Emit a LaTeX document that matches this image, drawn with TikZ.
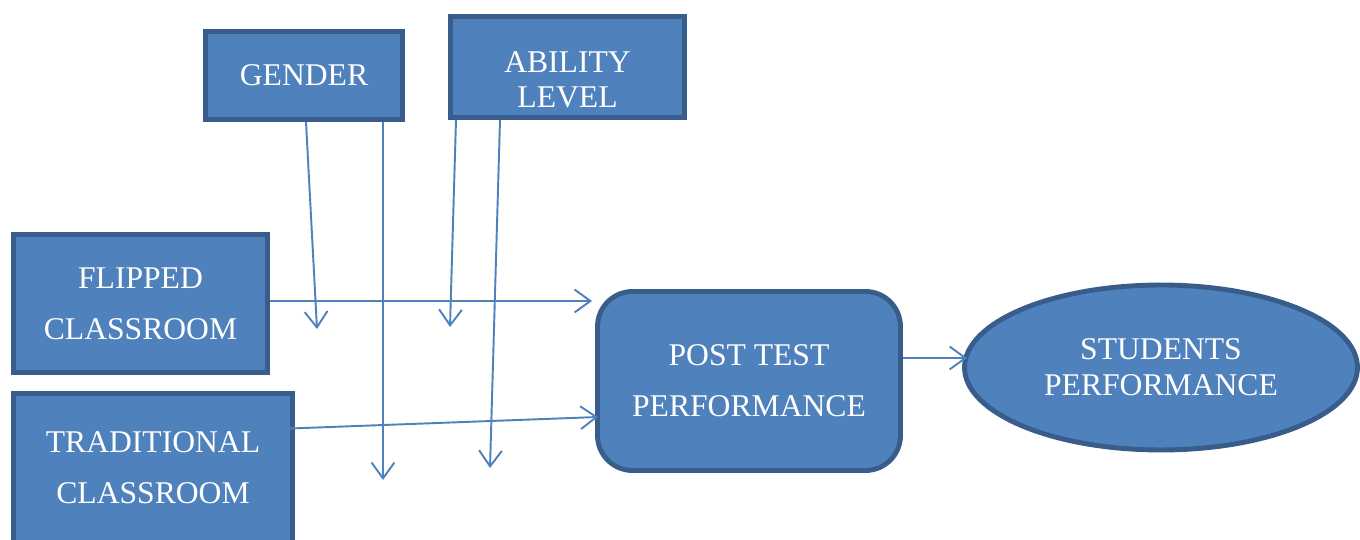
\documentclass[tikz,border=0pt]{standalone}
\usepackage{fontspec}
\setmainfont{Liberation Serif}
\usetikzlibrary{positioning,arrows.meta,shapes.geometric,calc}
\definecolor{boxfill}{HTML}{4F81BD}
\definecolor{boxline}{HTML}{385D8A}

\begin{document}
\begin{tikzpicture}[
  x=0.02cm, y=-0.02cm,
  box/.style={draw=boxline, fill=boxfill, line width=2.8pt, text=white, align=center,
    inner sep=0pt, font=\fontsize{18}{29}\selectfont},
  boxtext/.style={text=white, align=center, inner sep=0pt, font=\fontsize{18}{20}\selectfont},
  flow/.style={-{Straight Barb[length=9pt,width=13pt]}, line width=1.1pt, draw=boxfill}
]
\useasboundingbox (0,0) rectangle (1360,540);
\clip (0,0) rectangle (1360,540);

% Moderators (top row)
\node[box, minimum width=3.94cm, minimum height=1.76cm] (gender) at (304,75.5) {GENDER};
\node[box, minimum width=4.68cm, minimum height=2.02cm] (ability) at (567.5,67) {};
\node[boxtext] (abilitytext) at (567.5,80) {ABILITY\\LEVEL};

% Treatments (left column)
\node[box, minimum width=5.08cm, minimum height=2.76cm] (flipped) at (140.5,303.5) {FLIPPED\\CLASSROOM};
\node[box, minimum width=5.58cm, minimum height=2.98cm] (trad) at (153,468) {TRADITIONAL\\CLASSROOM};

% Outcomes
\node[box, rounded corners=0.7cm, minimum width=6.06cm, minimum height=3.58cm] (post) at (749,381) {POST TEST\\PERFORMANCE};
\node[box, ellipse, minimum width=7.86cm, minimum height=3.3cm,
  font=\fontsize{18}{20.5}\selectfont] (students) at (1161,367.5) {STUDENTS\\PERFORMANCE};

% Free ends of the moderator arrows
\coordinate (genderA) at (317,329);
\coordinate (genderB) at (383,480);
\coordinate (abilityA) at (450,327);
\coordinate (abilityB) at (490,468);

% Moderator links
\draw[flow] ($(gender.south)+(2,0)$) -- (genderA);
\draw[flow] ($(gender.south)+(79,0)$) -- (genderB);
\draw[flow] ($(ability.south)+(-111.5,0)$) -- (abilityA);
\draw[flow] ($(ability.south)+(-67.5,0)$) -- (abilityB);

% Main flow
\draw[flow] ($(flipped.east)+(0,-2.5)$) -- ($(post.west)+(-3,-80)$);
\draw[flow] ($(trad.east)+(-45,-38)$) -- ($(post.west)+(3,36)$);
\draw[flow] ($(post.east)+(0,-23)$) -- ($(students.west)+(5,-9.5)$);

\end{tikzpicture}
\end{document}
